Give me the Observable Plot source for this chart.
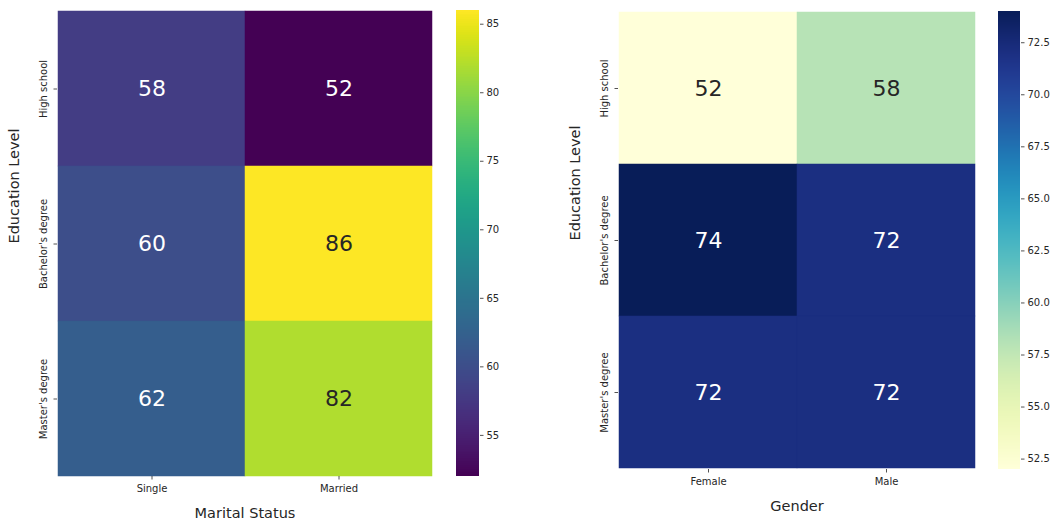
<!DOCTYPE html>
<html>
<head>
<meta charset="utf-8">
<script src="https://cdn.jsdelivr.net/npm/d3@7"></script>
<script src="https://cdn.jsdelivr.net/npm/@observablehq/plot@0.6"></script>
<style>
  html, body { margin: 0; padding: 0; background: #fff; }
  #chart { position: relative; width: 1054px; height: 527px; overflow: hidden; }
  #chart svg { position: absolute; left: 0; top: 0; }
</style>
</head>
<body>
<div id="chart"></div>
<script>
// Average scores by education level, split by marital status and by gender
const educationLevels = ["High school", "Bachelor's degree", "Master's degree"];
const maritalStatuses = ["Single", "Married"];
const maritalScores = [
  [58, 52],
  [60, 86],
  [62, 82]
];
const genders = ["Female", "Male"];
const genderScores = [
  [52, 58],
  [74, 72],
  [72, 72]
];
const maritalTicks = [55, 60, 65, 70, 75, 80, 85];
const genderTicks = [52.5, 55, 57.5, 60, 62.5, 65, 67.5, 70, 72.5];

const W = 1054, H = 527;
const INK = "#262626";
const FONT = "DejaVu Sans, sans-serif";
const chart = document.getElementById("chart");

// relative luminance, used to pick a readable annotation colour
function luminance(c) {
  const {r, g, b} = d3.rgb(c);
  const f = (v) => { v /= 255; return v <= 0.03928 ? v / 12.92 : Math.pow((v + 0.055) / 1.055, 2.2); };
  return 0.2126 * f(r) + 0.7152 * f(g) + 0.0722 * f(b);
}

function heatmap({columns, values, scheme, xTitle, box}) {
  const cells = [];
  educationLevels.forEach((row, i) => columns.forEach((col, j) => cells.push({row, col, value: values[i][j]})));
  const domain = d3.extent(cells, (d) => d.value);
  const color = Plot.scale({color: {type: "linear", scheme, domain}});
  const isLight = (d) => luminance(color.apply(d.value)) > 0.408;
  return Plot.plot({
    width: W, height: H,
    marginLeft: box.left, marginRight: W - box.right,
    marginTop: box.top, marginBottom: H - box.bottom,
    style: {background: "transparent", fontFamily: FONT, fontSize: "10px", color: INK},
    x: {domain: columns, padding: 0, axis: null},
    y: {domain: educationLevels, padding: 0, axis: null},
    color: {type: "linear", scheme, domain},
    marks: [
      Plot.cell(cells, {x: "col", y: "row", fill: "value", stroke: "value", strokeWidth: 0.5, inset: 0}),
      Plot.text(cells, {filter: (d) => !isLight(d), x: "col", y: "row", text: (d) => String(d.value), fill: "white", fontSize: 22}),
      Plot.text(cells, {filter: isLight, x: "col", y: "row", text: (d) => String(d.value), fill: INK, fontSize: 22}),
      Plot.axisX({tickSize: 3.5, tickPadding: 4.5, label: null, stroke: INK, strokeWidth: 0.8, fill: INK, fontSize: 10}),
      Plot.axisY({tickSize: 3.5, tickFormat: () => "", label: null, stroke: INK, strokeWidth: 0.8}),
      Plot.text(educationLevels, {y: (d) => d, frameAnchor: "left", dx: -14, rotate: -90, textAnchor: "middle", fill: INK, fontSize: 10}),
      Plot.text([xTitle], {frameAnchor: "bottom", dy: 41, fill: INK, fontSize: 14.5}),
      Plot.text(["Education Level"], {frameAnchor: "left", dx: -43, rotate: -90, fill: INK, fontSize: 14.5})
    ]
  });
}

function colorbar({values, scheme, ticks, format, box}) {
  const [lo, hi] = d3.extent(values.flat());
  // one band per pixel row keeps the gradient smooth and seamless
  const n = box.bottom - box.top;
  const steps = d3.range(n).map((i) => ({y1: lo + (i * (hi - lo)) / n, y2: lo + ((i + 1) * (hi - lo)) / n}));
  return Plot.plot({
    width: W, height: H,
    marginLeft: box.left, marginRight: W - box.right,
    marginTop: box.top, marginBottom: H - box.bottom,
    style: {background: "transparent", fontFamily: FONT, fontSize: "10px", color: INK},
    y: {domain: [lo, hi], axis: null},
    color: {type: "linear", scheme, domain: [lo, hi]},
    marks: [
      Plot.rect(steps, {y1: "y1", y2: "y2", fill: (d) => (d.y1 + d.y2) / 2, shapeRendering: "crispEdges"}),
      Plot.axisY({anchor: "right", ticks, tickFormat: format, tickSize: 3.5, tickPadding: 3.5, label: null, stroke: INK, strokeWidth: 0.8, fill: INK, fontSize: 10})
    ]
  });
}

chart.append(heatmap({
  columns: maritalStatuses, values: maritalScores, scheme: "viridis", xTitle: "Marital Status",
  box: {left: 57, right: 432, top: 10, bottom: 476}
}));
chart.append(colorbar({
  values: maritalScores, scheme: "viridis", ticks: maritalTicks, format: (d) => d3.format("d")(d),
  box: {left: 456, right: 479, top: 10, bottom: 476}
}));
chart.append(heatmap({
  columns: genders, values: genderScores, scheme: "ylgnbu", xTitle: "Gender",
  box: {left: 618, right: 975, top: 11, bottom: 469}
}));
chart.append(colorbar({
  values: genderScores, scheme: "ylgnbu", ticks: genderTicks, format: (d) => d3.format(".1f")(d),
  box: {left: 998, right: 1020, top: 11, bottom: 469}
}));
</script>
</body>
</html>
